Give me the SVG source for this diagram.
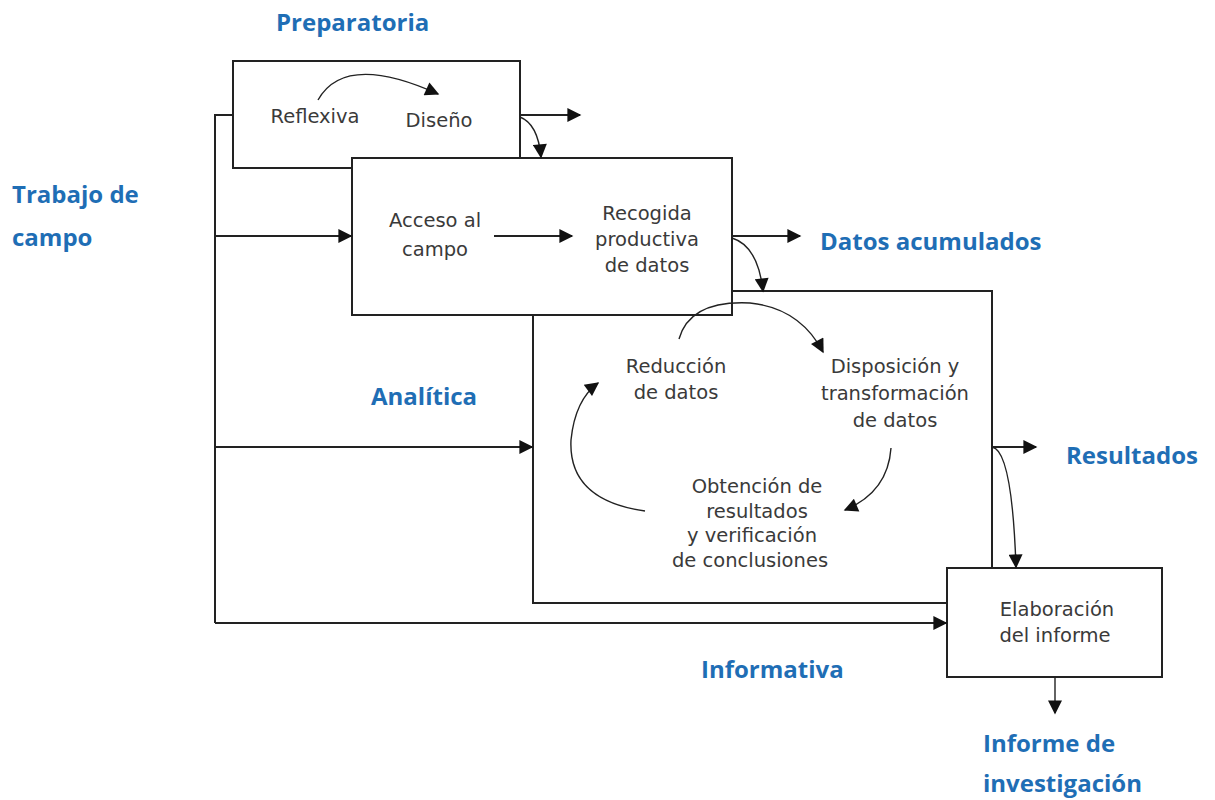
<svg xmlns="http://www.w3.org/2000/svg" width="1215" height="800" viewBox="0 0 1215 800">
  <defs>
    <marker id="arrL" viewBox="0 0 10 10" refX="9" refY="5" markerWidth="17" markerHeight="14" markerUnits="userSpaceOnUse" orient="auto">
      <path d="M0,0 L10,5 L0,10 z" fill="#111"/>
    </marker>
  </defs>
  <style>
    .box { fill: none; stroke: #222; stroke-width: 2; }
    .ln { fill: none; stroke: #222; stroke-width: 2; }
    .cv { fill: none; stroke: #222; stroke-width: 1.4; }
    .t { font-family: "DejaVu Sans", "Liberation Sans", sans-serif; font-size: 19.5px; fill: #3a3a3a; text-anchor: middle; }
    .lbl { font-family: "Open Sans", "Liberation Sans", sans-serif; font-weight: bold; font-size: 24px; fill: #1f6eb5; }
  </style>
  <rect width="1215" height="800" fill="#fff"/>

  <!-- phase labels -->
  <g id="labels">
    <text class="lbl" x="276" y="31">Preparatoria</text>
    <text class="lbl" x="12" y="203">Trabajo de</text>
    <text class="lbl" x="12" y="246">campo</text>
    <text class="lbl" x="820" y="250">Datos acumulados</text>
    <text class="lbl" x="371" y="405">Analítica</text>
    <text class="lbl" x="1066" y="464">Resultados</text>
    <text class="lbl" x="701" y="678">Informativa</text>
    <text class="lbl" x="983" y="752">Informe de</text>
    <text class="lbl" x="983" y="792">investigación</text>
  </g>

  <!-- Preparatoria stage -->
  <g id="preparatoria">
    <path class="box" d="M352,168 H233 V61 H520 V158"/>
    <text class="t" x="315" y="123">Reflexiva</text>
    <text class="t" x="439" y="127">Diseño</text>
  </g>

  <!-- Trabajo de campo stage -->
  <g id="trabajo-campo">
    <rect class="box" x="352" y="158" width="380" height="157"/>
    <text class="t" x="435" y="227">Acceso al</text>
    <text class="t" x="435" y="256">campo</text>
    <text class="t" x="647" y="220">Recogida</text>
    <text class="t" x="647" y="246">productiva</text>
    <text class="t" x="647" y="272">de datos</text>
  </g>

  <!-- Analítica stage -->
  <g id="analitica">
    <path class="box" d="M732,291 H992 V568"/>
    <path class="box" d="M533,315 V603 H947"/>
    <text class="t" x="676" y="373">Reducción</text>
    <text class="t" x="676" y="399">de datos</text>
    <text class="t" x="895" y="373">Disposición y</text>
    <text class="t" x="895" y="400">transformación</text>
    <text class="t" x="895" y="427">de datos</text>
    <text class="t" x="757" y="493">Obtención de</text>
    <text class="t" x="757" y="518">resultados</text>
    <text class="t" x="752" y="542">y verificación</text>
    <text class="t" x="750" y="567">de conclusiones</text>
  </g>

  <!-- Informativa stage -->
  <g id="informativa">
    <rect class="box" x="947" y="568" width="215" height="109"/>
    <text class="t" x="1057" y="616">Elaboración</text>
    <text class="t" x="1055" y="642">del informe</text>
  </g>

  <!-- connectors -->
  <g id="connectors">
    <!-- left feedback spine -->
    <path class="ln" d="M233,115 H215 V623"/>
    <path class="ln" d="M215,236 H351" marker-end="url(#arrL)"/>
    <path class="ln" d="M215,447 H532" marker-end="url(#arrL)"/>
    <path class="ln" d="M215,623 H946" marker-end="url(#arrL)"/>

    <!-- outputs -->
    <path class="ln" d="M520,115 H580" marker-end="url(#arrL)"/>
    <path class="cv" d="M520,117 Q538,124 541,157" marker-end="url(#arrL)"/>
    <path class="ln" d="M732,236 H800" marker-end="url(#arrL)"/>
    <path class="cv" d="M732,238 Q758,246 763,291" marker-end="url(#arrL)"/>
    <path class="ln" d="M992,447 H1036" marker-end="url(#arrL)"/>
    <path class="cv" d="M992,447 Q1012,450 1016,567" marker-end="url(#arrL)"/>
    <path class="cv" d="M1055,677 V713" marker-end="url(#arrL)"/>

    <!-- internal flows -->
    <path class="cv" d="M318,100 Q345,52 438,94" marker-end="url(#arrL)"/>
    <path class="ln" d="M494,236 H572" marker-end="url(#arrL)"/>
    <path class="cv" d="M679,339 Q690,300 750,303 Q800,308 823,352" marker-end="url(#arrL)"/>
    <path class="cv" d="M891,448 Q888,492 845,510" marker-end="url(#arrL)"/>
    <path class="cv" d="M645,511 Q568,500 571,440 Q575,400 598,383" marker-end="url(#arrL)"/>
  </g>
</svg>
